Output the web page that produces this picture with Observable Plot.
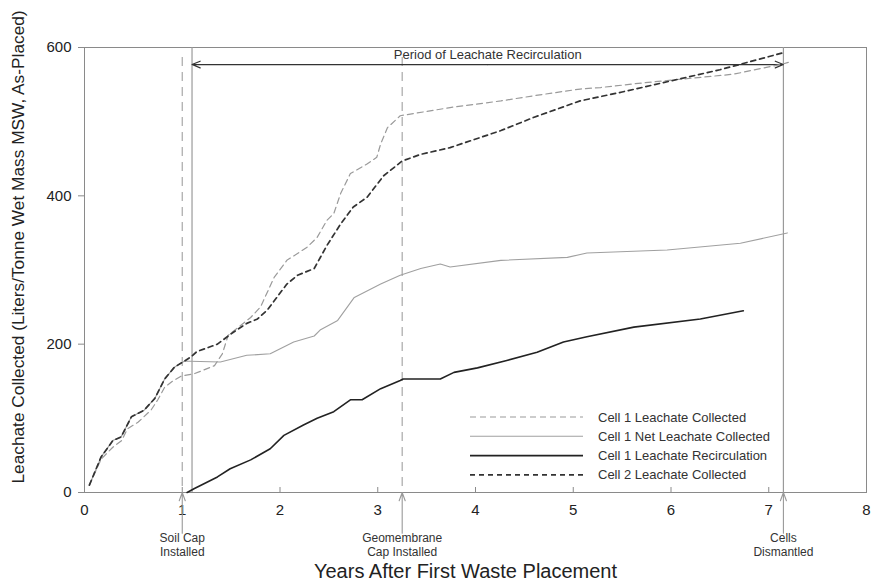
<!DOCTYPE html>
<html>
<head>
<meta charset="utf-8">
<script src="https://cdn.jsdelivr.net/npm/d3@7"></script>
<script src="https://cdn.jsdelivr.net/npm/@observablehq/plot@0.6"></script>
<style>
  body { margin: 0; background: #fff; font-family: "Liberation Sans", Arial, sans-serif; }
  #wrap { position: relative; width: 873px; height: 584px; }
  #legend { position: absolute; left: 466px; top: 407px; }
</style>
</head>
<body>
<div id="wrap"><div id="legend"></div></div>
<script>
// ---- data (years after first waste placement, L/tonne) ----
const cell1CollYr  = [0.05,0.17,0.29,0.38,0.44,0.55,0.68,0.75,0.82,0.90,0.99,1.12,1.33,1.41,1.47,1.70,1.80,1.94,2.07,2.28,2.38,2.48,2.55,2.62,2.72,2.89,2.99,3.03,3.10,3.23,3.74,4.26,4.60,5.07,5.28,5.62,6.00,6.64,7.15,7.20];
const cell1CollVal = [10,45,61,70,86,95,111,125,142,150,157,160,171,187,212,236,250,290,313,331,344,367,376,403,430,443,452,470,492,508,519,528,535,544,546,551,556,564,578,580];

const cell1NetYr  = [0.05,0.17,0.29,0.375,0.48,0.61,0.72,0.82,0.92,1.02,1.08,1.39,1.66,1.90,2.14,2.35,2.41,2.59,2.76,3.03,3.23,3.44,3.64,3.74,4.26,4.94,5.14,5.96,6.71,7.19];
const cell1NetVal = [10,48,70,75,102,111,127,153,169,177,177,176,185,187,203,211,219,232,263,281,293,302,308,304,313,317,323,327,336,350];

const recircYr  = [1.05,1.12,1.36,1.49,1.70,1.90,2.04,2.24,2.38,2.55,2.72,2.84,3.03,3.23,3.26,3.64,3.78,4.02,4.32,4.63,4.90,5.14,5.62,6.30,6.74];
const recircVal = [0,5,21,32,44,59,77,91,100,109,125,125,140,151,153,153,162,168,178,189,203,210,223,234,245];

const cell2Yr  = [0.05,0.17,0.29,0.375,0.48,0.61,0.72,0.82,0.92,1.02,1.09,1.15,1.36,1.50,1.66,1.77,1.87,2.07,2.18,2.35,2.48,2.62,2.75,2.89,3.06,3.25,3.44,3.74,4.26,4.60,5.07,5.50,6.00,6.50,7.15];
const cell2Val = [10,48,70,75,102,111,127,153,169,177,183,190,200,214,228,234,246,281,293,302,333,362,385,398,427,447,456,465,488,506,528,540,555,570,593];

const seriesNames = ["Cell 1 Leachate Collected","Cell 1 Net Leachate Collected","Cell 1 Leachate Recirculation","Cell 2 Leachate Collected"];

const eventYr     = [1.0, 3.25, 7.15];
const eventLabels = ["Soil Cap\nInstalled", "Geomembrane\nCap Installed", "Cells\nDismantled"];
const recircStart = 1.1, recircEnd = 7.15;
const periodLabel = "Period of Leachate Recirculation";
const periodLevel = 577;

const xTicks = [0,1,2,3,4,5,6,7,8];
const yTicks = [0,200,400,600];

// ---- build ----
const toRows = (xs, ys) => xs.map((x, i) => ({x, y: ys[i]}));
const s1 = toRows(cell1CollYr, cell1CollVal);
const sNet = toRows(cell1NetYr, cell1NetVal);
const sRec = toRows(recircYr, recircVal);
const s2 = toRows(cell2Yr, cell2Val);
const events = eventYr.map((x, i) => ({x, label: eventLabels[i]}));
const dashedEvents = [events[0], events[1]];
const solidRules = [recircStart, recircEnd];
const mid = (recircStart + recircEnd) / 2;

const styles = [
  {stroke: "#9a9a9a", strokeWidth: 1.2, dash: "6,4"},
  {stroke: "#a0a0a0", strokeWidth: 1.1, dash: null},
  {stroke: "#222", strokeWidth: 1.6, dash: null},
  {stroke: "#333", strokeWidth: 1.7, dash: "5,4"}
];
const lineOpts = st => ({x: "x", y: "y", stroke: st.stroke, strokeWidth: st.strokeWidth, strokeDasharray: st.dash});

const chart = Plot.plot({
  width: 873,
  height: 584,
  marginTop: 47,
  marginRight: 7,
  marginBottom: 92,
  marginLeft: 84,
  style: {fontFamily: "'Liberation Sans', Arial, sans-serif", color: "#222", background: "#fff"},
  x: {domain: [0, 8]},
  y: {domain: [0, 600]},
  marks: [
    Plot.frame({stroke: "#8a8a8a"}),
    // event guide lines
    Plot.ruleX(dashedEvents, {x: "x", insetTop: 10, stroke: "#a8a8a8", strokeWidth: 1.2, strokeDasharray: "9,6"}),
    Plot.ruleX(solidRules, {stroke: "#9a9a9a", strokeWidth: 1.2}),
    // period arrow
    Plot.arrow([recircStart, recircEnd], {x1: () => mid, x2: d => d, y1: () => periodLevel, y2: () => periodLevel,
      stroke: "#333", strokeWidth: 1.2, headLength: 11, headAngle: 45}),
    Plot.text([periodLabel], {x: () => mid, y: () => periodLevel, dy: -6, lineAnchor: "bottom", fontSize: 13, fill: "#333"}),
    // series
    Plot.line(sNet, lineOpts(styles[1])),
    Plot.line(s1, lineOpts(styles[0])),
    Plot.line(sRec, lineOpts(styles[2])),
    Plot.line(s2, lineOpts(styles[3])),
    // axes
    Plot.axisY({ticks: yTicks, tickSize: 6, tickPadding: 7, fontSize: 15, label: null, stroke: "#8a8a8a"}),
    Plot.axisX({ticks: xTicks, tickSize: 0, tickPadding: 12, fontSize: 15, label: null}),
    Plot.gridX(xTicks, {insetTop: 440, stroke: "#8a8a8a", strokeOpacity: 1}),
    Plot.text(["Leachate Collected (Liters/Tonne Wet Mass MSW, As-Placed)"], {frameAnchor: "left", textAnchor: "middle", rotate: -90, dx: -66, dy: -23, fontSize: 17.3, fill: "#222"}),
    Plot.text(["Years After First Waste Placement"], {frameAnchor: "bottom", dx: -10, dy: 85, fontSize: 20, fill: "#222"}),
    // event arrows under the axis
    Plot.arrow(events, {x: "x", y1: () => -55, y2: () => 0, stroke: "#999", strokeWidth: 1.1, headLength: 12, headAngle: 40}),
    Plot.text(events, {x: "x", text: "label", frameAnchor: "bottom", dy: 40, lineAnchor: "top", fontSize: 12, lineHeight: 1.15, fill: "#333"})
  ]
});
document.getElementById("wrap").prepend(chart);

// legend (inside plot area)
const lg = d3.select("#legend").append("svg").attr("width", 340).attr("height", 80)
  .style("font-family", "'Liberation Sans', Arial, sans-serif");
seriesNames.forEach((name, i) => {
  const y = 10 + i * 19.3;
  const st = styles[i];
  lg.append("line").attr("x1", 4).attr("x2", 117).attr("y1", y).attr("y2", y)
    .attr("stroke", st.stroke).attr("stroke-width", st.strokeWidth)
    .attr("stroke-dasharray", st.dash);
  lg.append("text").attr("x", 132).attr("y", y).attr("dy", "0.35em")
    .attr("font-size", 13).attr("fill", "#333").text(name);
});
</script>
</body>
</html>
